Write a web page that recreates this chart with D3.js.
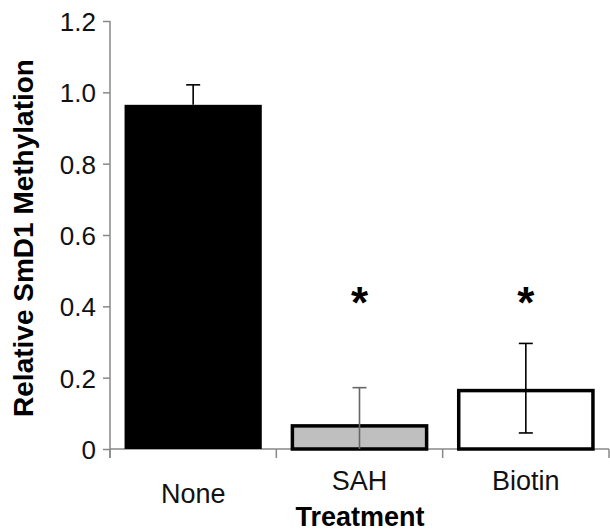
<!DOCTYPE html>
<html>
<head>
<meta charset="utf-8">
<script src="https://cdn.jsdelivr.net/npm/d3@7"></script>
<style>
  body { margin: 0; background: #fff; }
  text { font-family: "Liberation Sans", Arial, sans-serif; }
</style>
</head>
<body>
<script>
// values
let treatments = ["None", "SAH", "Biotin"];
let means = [0.965, 0.069, 0.168];
let errUp = [0.056, 0.103, 0.128];
let errDown = [0, 0.103, 0.123];
let stars = ["", "*", "*"];
let barColors = ["#000000", "#bfbfbf", "#ffffff"];
let errColors = ["#000000", "#666666", "#000000"];
let yTicks = [0, 0.2, 0.4, 0.6, 0.8, 1.0, 1.2];

let width = 610, height = 531;

svg = d3.select("body")
  .append("svg")
  .attr("width", width)
  .attr("height", height);

let xScale = d3.scaleBand()
  .domain(treatments)
  .range([110, 609])
  .paddingInner(0.175)
  .paddingOuter(0.0875);

let yScale = d3.scaleLinear()
  .domain([0, 1.2])
  .range([449, 21]);

let axisColor = "#888";

// y axis
let yAxis = d3.axisLeft(yScale)
  .tickValues(yTicks)
  .tickSize(7)
  .tickPadding(7)
  .tickFormat(d => d === 0 ? "0" : d3.format(".1f")(d));

let gy = svg.append("g")
  .attr("transform", "translate(110,0)")
  .call(yAxis);
gy.select(".domain").remove();
gy.selectAll("line").attr("stroke", axisColor).attr("stroke-width", 1.5);
gy.selectAll("text")
  .attr("font-size", 26)
  .attr("fill", "#111")
  .attr("dy", "0.36em");
gy.append("line")
  .attr("x1", 0).attr("x2", 0)
  .attr("y1", yScale(1.2)).attr("y2", yScale(0) + 9)
  .attr("stroke", axisColor).attr("stroke-width", 1.5);

// x axis baseline with ticks between categories
svg.append("line")
  .attr("x1", 110).attr("x2", 609)
  .attr("y1", yScale(0)).attr("y2", yScale(0))
  .attr("stroke", axisColor).attr("stroke-width", 1.5);

let step = xScale.step();
svg.selectAll(".xtick")
  .data(d3.range(treatments.length + 1))
  .enter()
  .append("line")
  .attr("class", "xtick")
  .attr("x1", i => 110 + i * step)
  .attr("x2", i => 110 + i * step)
  .attr("y1", yScale(0))
  .attr("y2", yScale(0) + 9)
  .attr("stroke", axisColor)
  .attr("stroke-width", 1.5);

// bars
svg.selectAll(".bar")
  .data(treatments)
  .enter()
  .append("rect")
  .attr("class", "bar")
  .attr("x", (d, i) => xScale(d) + (i === 0 ? 0 : 1.5))
  .attr("y", (d, i) => yScale(means[i]) + (i === 0 ? 0 : 1.5))
  .attr("width", (d, i) => xScale.bandwidth() - (i === 0 ? 0 : 3))
  .attr("height", (d, i) => yScale(0) - yScale(means[i]) - (i === 0 ? 0 : 1.5))
  .attr("fill", (d, i) => barColors[i])
  .attr("stroke", (d, i) => i === 0 ? "none" : "#000")
  .attr("stroke-width", 3.5);

// error bars
let cx = d => xScale(d) + xScale.bandwidth() / 2;
let errs = svg.selectAll(".err")
  .data(treatments)
  .enter()
  .append("g")
  .attr("class", "err")
  .attr("stroke", (d, i) => errColors[i])
  .attr("stroke-width", 1.6);

errs.append("line")
  .attr("x1", cx).attr("x2", cx)
  .attr("y1", (d, i) => yScale(means[i] + errUp[i]))
  .attr("y2", (d, i) => yScale(Math.max(0, means[i] - errDown[i])));
errs.append("line")
  .attr("x1", d => cx(d) - 7).attr("x2", d => cx(d) + 7)
  .attr("y1", (d, i) => yScale(means[i] + errUp[i]))
  .attr("y2", (d, i) => yScale(means[i] + errUp[i]));
errs.filter((d, i) => errDown[i] > 0 && means[i] - errDown[i] > 0)
  .append("line")
  .attr("x1", d => cx(d) - 7).attr("x2", d => cx(d) + 7)
  .attr("y1", d => { let i = treatments.indexOf(d); return yScale(means[i] - errDown[i]); })
  .attr("y2", d => { let i = treatments.indexOf(d); return yScale(means[i] - errDown[i]); });

// significance stars
svg.selectAll(".star")
  .data(treatments)
  .enter()
  .append("text")
  .attr("class", "star")
  .attr("x", cx)
  .attr("y", 318)
  .attr("text-anchor", "middle")
  .attr("font-size", 44)
  .attr("font-weight", "bold")
  .text((d, i) => stars[i]);

// category labels
svg.selectAll(".cat")
  .data(treatments)
  .enter()
  .append("text")
  .attr("class", "cat")
  .attr("x", cx)
  .attr("y", (d, i) => i === 0 ? 503 : 490)
  .attr("text-anchor", "middle")
  .attr("font-size", 27)
  .attr("fill", "#111")
  .text(d => d);

// axis titles
svg.append("text")
  .attr("x", 360)
  .attr("y", 526)
  .attr("text-anchor", "middle")
  .attr("font-size", 27)
  .attr("font-weight", "bold")
  .text("Treatment");

svg.append("text")
  .attr("transform", "translate(33,238) rotate(-90)")
  .attr("text-anchor", "middle")
  .attr("font-size", 28)
  .attr("font-weight", "bold")
  .text("Relative SmD1 Methylation");
</script>
</body>
</html>
